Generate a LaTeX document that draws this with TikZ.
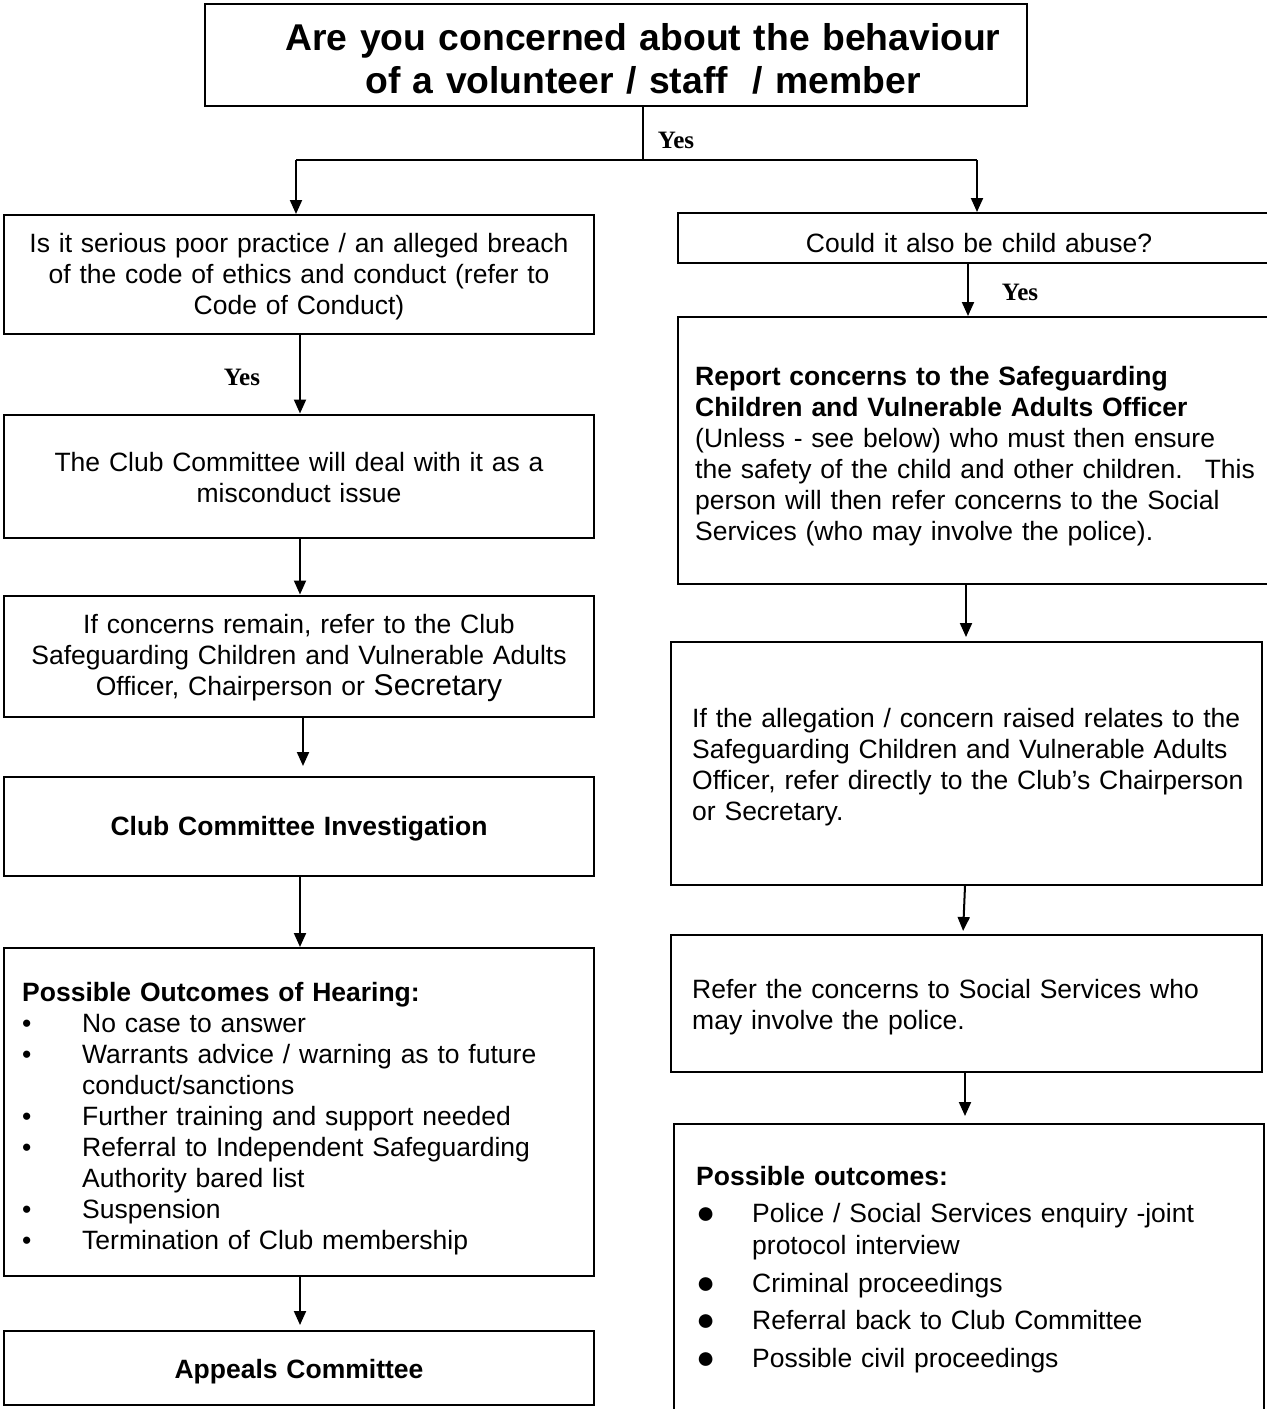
\documentclass[tikz,border=0pt]{standalone}
\usepackage{fontspec}
\setmainfont{Liberation Sans}
\newfontfamily\yesfont{Liberation Serif}
\usetikzlibrary{arrows.meta}
\setlength\parindent{0pt}
\newcommand\lbul[1]{\par\noindent\hangindent=60pt\hangafter=1\makebox[60pt][l]{\textbullet}#1}
\newcommand\rbul[1]{\par\noindent\hangindent=56pt\hangafter=1\makebox[56pt][l]{\raisebox{-1pt}{\scalebox{1.2}{●}}}#1}
\begin{document}
\begin{tikzpicture}[x=1pt,y=-1pt,
  box/.style={draw, line width=2pt, inner sep=0pt},
  txt/.style={inner sep=0pt, font=\fontsize{26.5}{31}\selectfont},
  yes/.style={inner sep=0pt, font=\yesfont\bfseries\fontsize{25}{25}\selectfont},
  conn/.style={line width=2pt},
  arr/.style={line width=2pt, -{Triangle[width=12pt,length=14pt]}}]
\useasboundingbox (0,0) rectangle (1267,1409);
\fill[white] (0,0) rectangle (1267,1409);

% boxes
\node[box, minimum width=822pt, minimum height=102pt] (top) at (616,55) {};
\node[box, minimum width=590pt, minimum height=119pt] (b1) at (299,274.5) {};
\node[box, minimum width=590pt, minimum height=123pt] (b2) at (299,476) {};
\node[box, minimum width=590pt, minimum height=121pt] (b3) at (299,656) {};
\node[box, minimum width=590pt, minimum height=99pt] (b4) at (299,826.5) {};
\node[box, minimum width=590pt, minimum height=328pt] (b5) at (299,1112) {};
\node[box, minimum width=590pt, minimum height=74pt] (b6) at (299,1368) {};
\node[box, minimum width=591pt, minimum height=50pt] (qA) at (973.5,238) {};
\node[box, minimum width=591pt, minimum height=267pt] (rB) at (973.5,450.5) {};
\node[box, minimum width=591pt, minimum height=243pt] (rC) at (966.5,763.5) {};
\node[box, minimum width=591pt, minimum height=137pt] (rD) at (966.5,1003.5) {};
\node[box, minimum width=590pt, minimum height=301pt] (rE) at (969,1274.5) {};

% texts
\node[inner sep=0pt, anchor=north, text width=800pt, align=center,
  font=\bfseries\fontsize{37.3}{43}\selectfont] (toptxt) at (643,23.5)
  {Are you concerned about the behaviour\\of a volunteer / staff~~/ member};
\node[txt, anchor=north, text width=580pt, align=center] (t1) at (299,233)
  {Is it serious poor practice / an alleged breach\\of the code of ethics and conduct (refer to\\Code of Conduct)};
\node[txt, anchor=north, text width=580pt, align=center] (t2) at (299,452)
  {The Club Committee will deal with it as a\\misconduct issue};
\node[txt, anchor=north, text width=580pt, align=center] (t3) at (299,614)
  {If concerns remain, refer to the Club\\Safeguarding Children and Vulnerable Adults\\Officer, Chairperson or {\fontsize{30}{31}\selectfont Secretary}};
\node[txt, anchor=north, text width=580pt, align=center] (t4) at (299,816)
  {\textbf{Club Committee Investigation}};
\node[txt, anchor=north west, text width=565pt, align=left] (t5) at (22,982)
  {\noindent\textbf{Possible Outcomes of Hearing:}
   \lbul{No case to answer}
   \lbul{Warrants advice / warning as to future\newline conduct/sanctions}
   \lbul{Further training and support needed}
   \lbul{Referral to Independent Safeguarding\newline Authority bared list}
   \lbul{Suspension}
   \lbul{Termination of Club membership}};
\node[txt, anchor=north, text width=580pt, align=center] (t6) at (299,1359)
  {\textbf{Appeals Committee}};

\node[txt, anchor=north, text width=580pt, align=center] (tA) at (979,233)
  {Could it also be child abuse?};
\node[txt, anchor=north west, text width=565pt, align=left] (tB) at (695,366)
  {\textbf{Report concerns to the Safeguarding}\\\textbf{Children and Vulnerable Adults Officer}\\(Unless - see below) who must then ensure\\the safety of the child and other children.~ This\\person will then refer concerns to the Social\\Services (who may involve the police).};
\node[txt, anchor=north west, text width=565pt, align=left] (tC) at (692,708)
  {If the allegation / concern raised relates to the\\Safeguarding Children and Vulnerable Adults\\Officer, refer directly to the Club’s Chairperson\\or Secretary.};
\node[txt, anchor=north west, text width=565pt, align=left] (tD) at (692,979)
  {Refer the concerns to Social Services who\\may involve the police.};
\node[inner sep=0pt, anchor=north west, text width=560pt, align=left,
  font=\fontsize{26.5}{32}\selectfont] (tE) at (696,1166)
  {\setlength\parskip{5.5pt}\noindent\textbf{Possible outcomes:}
   \rbul{Police / Social Services enquiry -joint\newline protocol interview}
   \rbul{Criminal proceedings}
   \rbul{Referral back to Club Committee}
   \rbul{Possible civil proceedings}};

% yes labels
\node[yes] (yes1) at (676,140) {Yes};
\node[yes] (yes2) at (242,377) {Yes};
\node[yes] (yes3) at (1020,292) {Yes};

% connectors
\coordinate (fork) at (643,160);
\coordinate (forkL) at (296,160);
\coordinate (forkR) at (977,160);
\draw[conn] (top.south -| fork) -- (fork);
\draw[conn] (forkL) -- (forkR);
\draw[arr] (forkL) -- (forkL |- b1.north);
\draw[arr] (forkR) -- (forkR |- qA.north);
\draw[arr] ([xshift=1pt]b1.south) -- ([xshift=1pt]b2.north);
\draw[arr] ([xshift=1pt]b2.south) -- ([xshift=1pt]b3.north);
\draw[arr, shorten >=10pt] ([xshift=4pt]b3.south) -- ([xshift=4pt]b4.north);
\draw[arr] ([xshift=1pt]b4.south) -- ([xshift=1pt]b5.north);
\draw[arr, shorten >=5pt] ([xshift=1pt]b5.south) -- ([xshift=1pt]b6.north);
\draw[arr] ([xshift=-5.5pt]qA.south) -- ([xshift=-5.5pt]rB.north);
\draw[arr, shorten >=4pt] ([xshift=-7.5pt]rB.south) -- ([xshift=-0.5pt]rC.north);
\draw[arr, shorten >=3pt] ([xshift=-1.5pt]rC.south) -- ([xshift=-3.5pt]rD.north);
\draw[arr, shorten >=7pt] ([xshift=-1.5pt]rD.south) -- ([xshift=-4pt]rE.north);
\end{tikzpicture}
\end{document}
